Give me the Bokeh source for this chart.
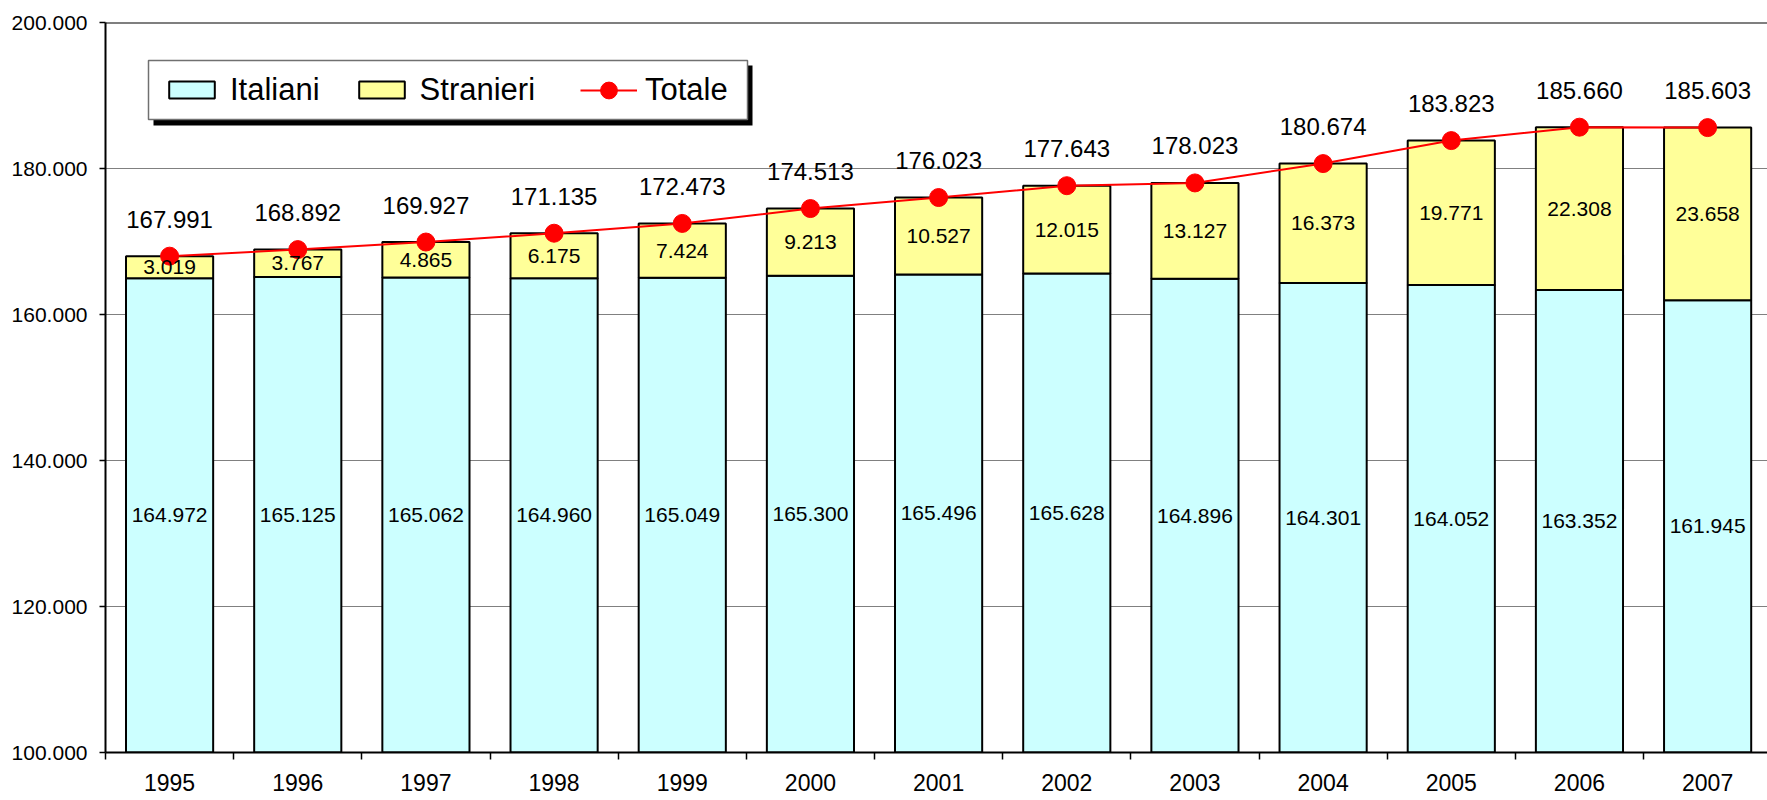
from bokeh.plotting import figure
from bokeh.models import (Range1d, FixedTicker, CustomJSTickFormatter, Span, Legend,
                          LegendItem, BoxAnnotation, ColumnDataSource)
from bokeh.core.properties import value
from bokeh.embed import file_html
from bokeh.resources import INLINE

years = ["1995", "1996", "1997", "1998", "1999", "2000", "2001",
         "2002", "2003", "2004", "2005", "2006", "2007"]
italiani = [164972, 165125, 165062, 164960, 165049, 165300, 165496,
            165628, 164896, 164301, 164052, 163352, 161945]
stranieri = [3019, 3767, 4865, 6175, 7424, 9213, 10527,
             12015, 13127, 16373, 19771, 22308, 23658]
y_ticks = [100000, 120000, 140000, 160000, 180000, 200000]

FONT = "Liberation Sans"
Y0, Y1 = y_ticks[0], y_ticks[-1]


def fmt(v):
    return f"{v:,}".replace(",", ".")


n = len(years)
xs = [i + 0.5 for i in range(n)]
totale = [a + b for a, b in zip(italiani, stranieri)]

src = ColumnDataSource(dict(
    x=xs,
    ital=italiani,
    stra=stranieri,
    tot=totale,
    ital_mid=[(Y0 + a) / 2 for a in italiani],
    stra_mid=[a + b / 2 for a, b in zip(italiani, stranieri)],
    ital_lab=[fmt(v) for v in italiani],
    stra_lab=[fmt(v) for v in stranieri],
    tot_lab=[fmt(v) for v in totale],
))

W, H = 1767, 800
BL, BT, BB = 105, 22, 48
frame_w = W - BL
cat_px = 128.17
FRAME_BOTTOM = H - BB

p = figure(width=W, height=H, output_backend="svg", toolbar_location=None,
           x_range=Range1d(0, frame_w / cat_px), y_range=Range1d(Y0, Y1),
           min_border_left=BL, min_border_right=0, min_border_top=BT,
           min_border_bottom=BB, background_fill_color="white",
           border_fill_color="white", outline_line_color=None)

# axes
p.xaxis.ticker = FixedTicker(ticks=xs, minor_ticks=list(range(n + 1)))
p.xaxis.formatter = CustomJSTickFormatter(args=dict(labels=years),
                                          code="return labels[Math.round(tick - 0.5)];")
p.xaxis.major_tick_out = 0
p.xaxis.major_tick_in = 0
p.xaxis.minor_tick_out = 7
p.xaxis.minor_tick_in = 0
p.xaxis.minor_tick_line_color = "black"
p.xaxis.minor_tick_line_width = 1.5
p.xaxis.axis_line_width = 2
p.xaxis.axis_line_color = "black"
p.xaxis.major_label_text_font = FONT
p.xaxis.major_label_text_font_size = "23px"
p.xaxis.major_label_text_color = "black"
p.xaxis.major_label_standoff = 14

p.yaxis.ticker = FixedTicker(ticks=y_ticks)
p.yaxis.formatter = CustomJSTickFormatter(code="return (tick / 1000).toFixed(3);")
p.yaxis.major_tick_out = 6
p.yaxis.major_tick_in = 0
p.yaxis.minor_tick_out = 0
p.yaxis.minor_tick_in = 0
p.yaxis.major_tick_line_width = 1.5
p.yaxis.major_tick_line_color = "black"
p.yaxis.axis_line_width = 2
p.yaxis.axis_line_color = "black"
p.yaxis.major_label_text_font = FONT
p.yaxis.major_label_text_font_size = "21px"
p.yaxis.major_label_text_color = "black"
p.yaxis.major_label_standoff = 12

p.xgrid.visible = False
p.ygrid.ticker = FixedTicker(ticks=y_ticks[1:-1])
p.ygrid.grid_line_color = "#808080"
p.ygrid.grid_line_width = 1

p.add_layout(Span(location=Y1, dimension="width", line_color="black", line_width=2))

# bars
r_it = p.vbar(x="x", width=0.68, bottom=0, top="ital", source=src,
              fill_color="#CCFFFF", line_color="black", line_width=2)
r_st = p.vbar(x="x", width=0.68, bottom="ital", top="tot", source=src,
              fill_color="#FFFF99", line_color="black", line_width=2)

# totale line
r_ln = p.line(x="x", y="tot", source=src, line_color="#FF0000", line_width=2)
r_pt = p.scatter(x="x", y="tot", source=src, size=18, fill_color="#FF0000",
                 line_color="#FF0000", marker="circle")

# labels
p.text(x="x", y="ital_mid", text="ital_lab", source=src, text_align="center",
       text_baseline="middle", text_font=value(FONT), text_font_size="21px",
       text_color="black")
p.text(x="x", y="stra_mid", text="stra_lab", source=src, text_align="center",
       text_baseline="middle", text_font=value(FONT), text_font_size="21px",
       text_color="black")
p.text(x="x", y="tot", text="tot_lab", source=src, text_align="center",
       text_baseline="middle", y_offset=-37, text_font=value(FONT),
       text_font_size="24px", text_color="black")

# legend frame with shadow (canvas pixels)
p.add_layout(BoxAnnotation(left=153, right=752, top=65, bottom=125,
                           left_units="canvas", right_units="canvas",
                           top_units="canvas", bottom_units="canvas",
                           fill_color="black", fill_alpha=1.0, line_color=None))
p.add_layout(BoxAnnotation(left=148, right=747, top=60, bottom=119,
                           left_units="canvas", right_units="canvas",
                           top_units="canvas", bottom_units="canvas",
                           fill_color="white", fill_alpha=1.0,
                           line_color="#707070", line_width=1.5, line_alpha=1.0))

LEG_CY = 89.5
common = dict(orientation="horizontal", margin=0, padding=0,
              label_text_font=FONT, label_text_font_size="31px",
              label_text_color="black", border_line_color=None,
              background_fill_alpha=0.0)

leg_a = Legend(items=[LegendItem(label="Italiani", renderers=[r_it]),
                      LegendItem(label="Stranieri", renderers=[r_st])],
               location=(170 - BL - 7, FRAME_BOTTOM - (LEG_CY + 18)),
               glyph_width=57, glyph_height=21, label_standoff=10, spacing=33,
               **common)
leg_b = Legend(items=[LegendItem(label="Totale", renderers=[r_ln, r_pt])],
               location=(580 - BL, FRAME_BOTTOM - (LEG_CY + 21)),
               glyph_width=57, glyph_height=42, label_standoff=8, spacing=0,
               **common)
p.add_layout(leg_a)
p.add_layout(leg_b)

open("out.html", "w").write(file_html(p, INLINE))
